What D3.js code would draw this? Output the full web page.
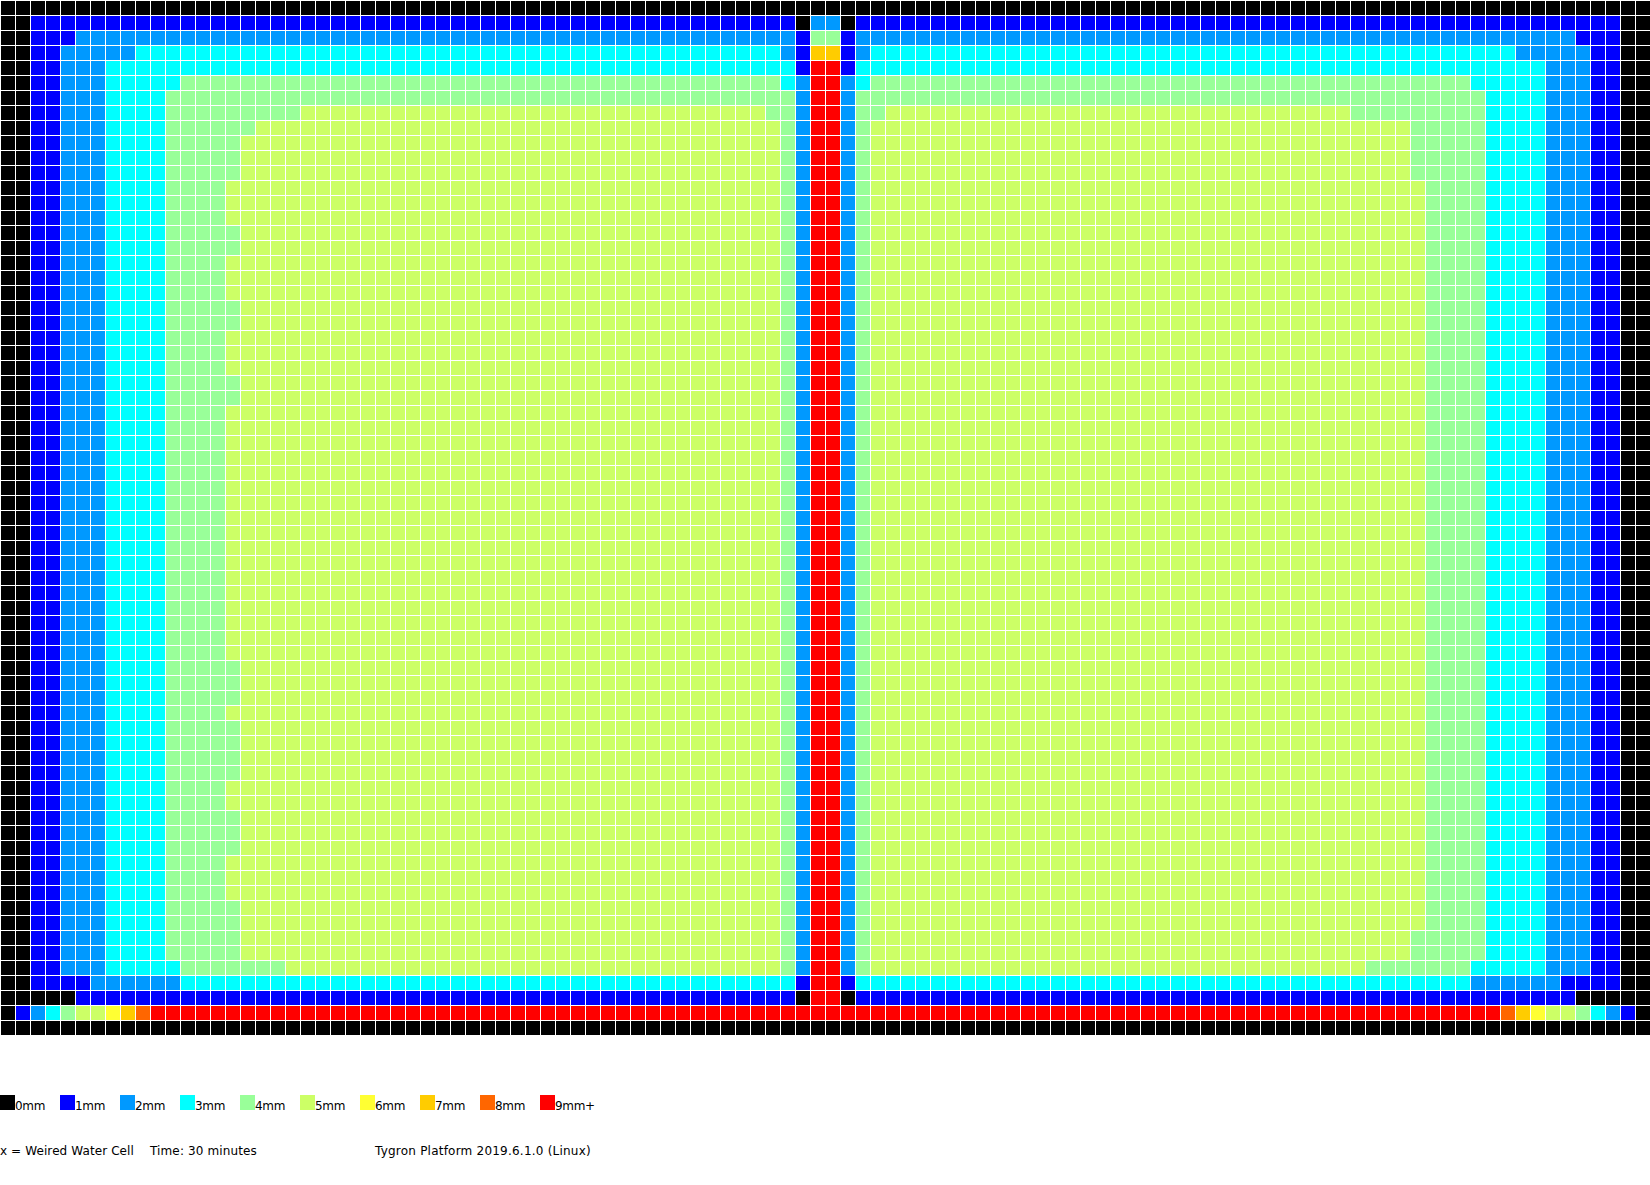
<!DOCTYPE html>
<html>
<head>
<meta charset="utf-8">
<script src="https://cdn.jsdelivr.net/npm/d3@7/dist/d3.min.js"></script>
<style>
html,body{margin:0;padding:0;background:#fff;overflow:hidden}
svg{display:block}
text{font-family:"DejaVu Sans",sans-serif;font-size:12px;fill:#000}
</style>
</head>
<body>
<script>
// Depth classes
const depthLevels = [0,1,2,3,4,5,6,7,8,9];
const depthLabels = ["0mm","1mm","2mm","3mm","4mm","5mm","6mm","7mm","8mm","9mm+"];
const depthColors = ["#000000","#0000ff","#0099ff","#00ffff","#99ff99","#ccff66","#ffff33","#ffcc00","#ff6600","#ff0000"];
const noteLabels = ["x = Weired Water Cell","Time: 30 minutes","Tygron Platform 2019.6.1.0 (Linux)"];
const columnCount = 110;

// Each row: runs of "depth:cellCount" from left to right
const rowEmpty = "0:110";
const rowA = "0:2 1:2 2:3 3:4 4:5 5:36 4:1 2:1 9:2 2:1 4:1 5:37 4:4 3:4 2:3 1:2 0:2";
const rowB = "0:2 1:2 2:3 3:4 4:4 5:37 4:1 2:1 9:2 2:1 4:1 5:37 4:4 3:4 2:3 1:2 0:2";
const rowD = "0:2 1:2 2:3 3:4 4:5 5:36 4:1 2:1 9:2 2:1 4:1 5:36 4:5 3:4 2:3 1:2 0:2";
const gridRows = [
  rowEmpty,
  "0:2 1:51 0:1 2:2 0:1 1:51 0:2",
  "0:2 1:3 2:48 1:1 4:2 1:1 2:48 1:3 0:2",
  "0:2 1:2 2:5 3:43 2:1 1:1 7:2 1:1 2:1 3:43 2:5 1:2 0:2",
  "0:2 1:2 2:3 3:46 1:1 9:2 1:1 3:46 2:3 1:2 0:2",
  "0:2 1:2 2:3 3:5 4:40 3:1 2:1 9:2 2:1 3:1 4:40 3:5 2:3 1:2 0:2",
  "0:2 1:2 2:3 3:4 4:42 2:1 9:2 2:1 4:42 3:4 2:3 1:2 0:2",
  "0:2 1:2 2:3 3:4 4:9 5:31 4:2 2:1 9:2 2:1 4:2 5:31 4:9 3:4 2:3 1:2 0:2",
  "0:2 1:2 2:3 3:4 4:6 5:35 4:1 2:1 9:2 2:1 4:1 5:36 4:5 3:4 2:3 1:2 0:2",
  rowD, rowD, rowD,
  rowB, rowB, rowB,
  rowA, rowA,
  rowB, rowB, rowB,
  rowA, rowA,
  rowB, rowB, rowB,
  rowA, rowA,
  rowB, rowB, rowB, rowB, rowB, rowB, rowB, rowB, rowB,
  rowB, rowB, rowB, rowB, rowB, rowB, rowB, rowB,
  rowA, rowA, rowA,
  rowB,
  rowA, rowA, rowA, rowA,
  rowB, rowB,
  rowA, rowA, rowA,
  rowB, rowB, rowB,
  rowA, rowA,
  rowD, rowD,
  "0:2 1:2 2:3 3:5 4:7 5:33 4:1 2:1 9:2 2:1 4:1 5:33 4:7 3:5 2:3 1:2 0:2",
  "0:2 1:4 2:6 3:41 1:1 9:2 1:1 3:41 2:6 1:4 0:2",
  "0:5 1:48 0:1 9:2 0:1 1:48 0:5",
  "0:1 1:1 2:1 3:1 4:1 5:2 6:1 7:1 8:1 9:90 8:1 7:1 6:1 5:2 4:1 3:1 2:1 1:1 0:1",
  rowEmpty
];

const width = 1650, height = 1185, cellPitch = 15;

const cells = gridRows.flatMap((row, r) => {
  let col = 0;
  return row.split(" ").flatMap(run => {
    const [depth, count] = run.split(":").map(Number);
    return d3.range(count).map(() => ({row: r, col: col++, depth}));
  });
});

const x = d3.scaleBand().domain(d3.range(columnCount)).range([0, columnCount * cellPitch]);
const y = d3.scaleBand().domain(d3.range(gridRows.length)).range([0, gridRows.length * cellPitch]);
const color = d3.scaleOrdinal().domain(depthLevels).range(depthColors);

const svg = d3.select("body").append("svg").attr("width", width).attr("height", height)
  .attr("viewBox", [0, 0, width, height]).attr("shape-rendering", "crispEdges");
svg.append("rect").attr("width", width).attr("height", height).attr("fill", "#fff");

svg.append("g").selectAll("rect").data(cells).join("rect")
  .attr("x", d => x(d.col) + 1)
  .attr("y", d => y(d.row) + 1)
  .attr("width", x.bandwidth() - 1)
  .attr("height", y.bandwidth() - 1)
  .attr("fill", d => color(d.depth));

const legendX = d3.scaleBand().domain(depthLevels).range([0, 600]);
const legend = svg.append("g").selectAll("g").data(depthLevels).join("g")
  .attr("transform", d => `translate(${legendX(d)},1095)`);
legend.append("rect").attr("width", 15).attr("height", 15).attr("fill", d => color(d));
legend.append("text").attr("x", 15).attr("y", 14.5)
  .attr("letter-spacing", "-0.3px").text((d, i) => depthLabels[i]);

const notePositions = d3.scaleOrdinal().domain(noteLabels).range([0, 150, 375]);
const noteSpacing = d3.scaleOrdinal().domain(noteLabels).range([0.1, 0.13, 0.22]);
svg.append("g").selectAll("text").data(noteLabels).join("text")
  .attr("x", d => notePositions(d)).attr("y", 1155)
  .attr("letter-spacing", d => noteSpacing(d) + "px").text(d => d);
</script>
</body>
</html>
